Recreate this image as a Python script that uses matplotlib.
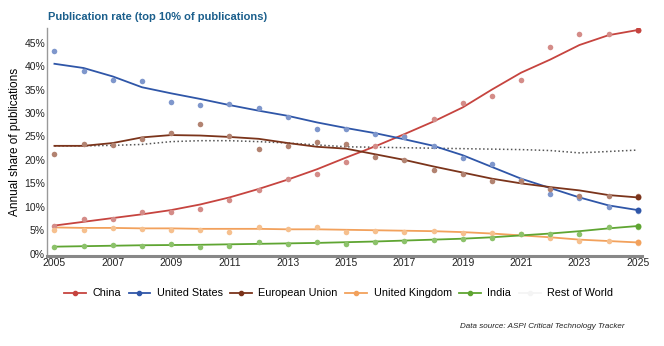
import matplotlib.pyplot as plt
from matplotlib.lines import Line2D

plt.rcParams['font.family'] = ['Liberation Sans', 'DejaVu Sans']

years = list(range(2005, 2026))
tick_years = list(range(2005, 2026, 2))

# yearly share (%) - scatter points
china_pts = [5.8, 7.3, 7.3, 8.8, 8.8, 9.5, 11.5, 13.6, 16.0, 16.9, 19.5, 22.9, 25.2, 28.8, 32.2, 33.6, 37.0, 44.0, 46.9, 46.9, 47.7]
us_pts = [43.2, 39.0, 37.1, 36.8, 32.3, 31.8, 32.0, 31.1, 29.1, 26.6, 26.6, 25.6, 24.9, 22.9, 20.4, 19.2, 15.8, 12.7, 11.8, 10.0, 9.1]
eu_pts = [21.3, 23.4, 23.1, 24.4, 25.7, 27.7, 25.0, 22.3, 22.9, 23.9, 23.4, 20.6, 19.9, 17.9, 17.0, 15.6, 15.6, 13.7, 12.4, 12.3, 12.3]
uk_pts = [5.1, 5.1, 5.5, 5.2, 5.1, 5.1, 4.6, 5.6, 5.3, 5.6, 4.7, 4.8, 4.7, 4.8, 4.4, 4.4, 4.2, 3.4, 2.8, 2.8, 2.3]
india_pts = [1.35, 1.6, 1.9, 1.6, 2.0, 1.4, 1.6, 2.4, 2.0, 2.5, 2.1, 2.6, 2.8, 3.0, 3.1, 3.3, 4.1, 4.1, 4.3, 5.7, 5.7]

# smoothed trend lines
china_trend = [6.0, 6.8, 7.6, 8.4, 9.3, 10.5, 12.0, 13.8, 15.8, 18.0, 20.5, 22.9, 25.5, 28.2, 31.2, 35.0, 38.6, 41.4, 44.5, 46.6, 47.7]
us_trend = [40.5, 39.6, 37.8, 35.5, 34.2, 33.0, 31.7, 30.5, 29.4, 28.0, 26.8, 25.7, 24.4, 23.0, 21.0, 18.5, 16.0, 14.0, 12.0, 10.3, 9.3]
eu_trend = [23.0, 23.0, 23.6, 24.8, 25.3, 25.2, 24.9, 24.5, 23.6, 22.8, 22.4, 21.2, 20.0, 18.6, 17.3, 16.0, 15.0, 14.2, 13.5, 12.5, 12.0]
uk_trend = [5.6, 5.5, 5.5, 5.4, 5.4, 5.3, 5.3, 5.3, 5.2, 5.2, 5.1, 5.0, 4.9, 4.8, 4.6, 4.3, 3.9, 3.5, 3.0, 2.7, 2.4]
india_trend = [1.5, 1.6, 1.7, 1.8, 1.85, 1.9, 2.0, 2.1, 2.2, 2.3, 2.45, 2.6, 2.8, 3.0, 3.2, 3.5, 3.9, 4.3, 4.8, 5.4, 5.9]
row_trend = [23.0, 23.0, 23.1, 23.3, 23.9, 24.1, 24.1, 23.9, 23.6, 23.2, 22.8, 22.7, 22.6, 22.5, 22.4, 22.3, 22.2, 22.0, 21.5, 21.8, 22.1]

series = [
    ('China', china_pts, china_trend, '#c6443f', '#d48c88'),
    ('United States', us_pts, us_trend, '#2f56a8', '#7f97cc'),
    ('European Union', eu_pts, eu_trend, '#7b341b', '#b28371'),
    ('United Kingdom', uk_pts, uk_trend, '#f2a15c', '#f6c08e'),
    ('India', india_pts, india_trend, '#5fa532', '#8cc26a'),
]

fig = plt.figure(figsize=(6.64, 3.46), dpi=100)
ax = fig.add_axes([0.071, 0.26, 0.896, 0.66])

for name, pts, trend, c_line, c_pt in series:
    ax.scatter(years, pts, s=16, color=c_pt, zorder=3, linewidths=0)
    ax.plot(years, trend, color=c_line, lw=1.3, zorder=2)
    ax.scatter([years[-1]], [trend[-1]], s=18, color=c_line, zorder=4, linewidths=0)

# rest of world, dotted
ax.plot(years, row_trend, color='#555555', lw=1.1, ls=(0, (1, 1.6)), zorder=1)

ax.set_xlim(2004.75, 2025.15)
ax.set_ylim(-0.5, 48.2)
ax.set_xticks(tick_years)
ax.set_xticklabels([str(y) for y in tick_years])
ax.set_yticks(range(0, 50, 5))
ax.set_yticklabels([f'{v}%' for v in range(0, 50, 5)])
ax.tick_params(labelsize=7.5, length=0, pad=1.5, colors='#222222')
ax.set_ylabel('Annual share of publications', fontsize=8.5, labelpad=2)

for s in ['top', 'right']:
    ax.spines[s].set_visible(False)
ax.spines['left'].set_color('#999999')
ax.spines['left'].set_linewidth(1.0)
ax.spines['bottom'].set_color('#888888')
ax.spines['bottom'].set_linewidth(2.2)

fig.text(0.072, 0.935, 'Publication rate (top 10% of publications)', fontsize=8,
         fontweight='bold', color='#1b5f8c', ha='left', va='bottom')

handles = [Line2D([0], [0], color=c, lw=1.3, marker='o', markersize=3) for _, _, _, c, _ in series]
handles.append(Line2D([0], [0], color='#f4f4f4', lw=1.3, marker='o', markersize=3))
labels = [s[0] for s in series] + ['Rest of World']
fig.legend(handles, labels, loc='center', bbox_to_anchor=(0.51, 0.152), ncol=6,
           frameon=False, fontsize=7.8, handlelength=2.0, columnspacing=0.7, handletextpad=0.6)

fig.text(0.94, 0.045, 'Data source: ASPI Critical Technology Tracker', fontsize=5.8,
         style='italic', ha='right', va='bottom', color='#222222')

plt.savefig('out.png', dpi=100)
